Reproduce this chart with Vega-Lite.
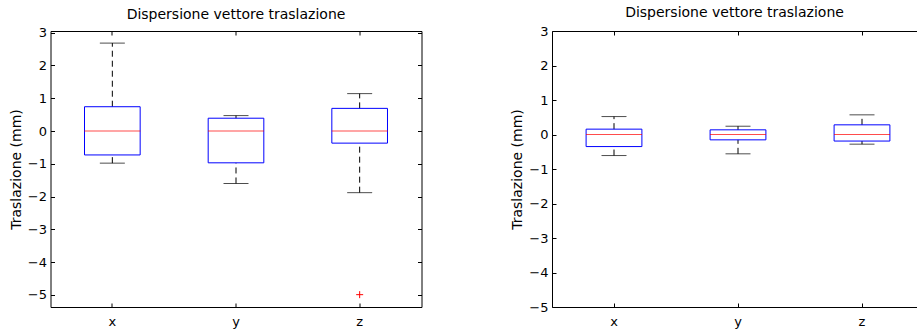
{
  "$schema": "https://vega.github.io/schema/vega-lite/v6.json",
  "padding": {"left": 8.5, "top": 5, "right": 0, "bottom": 0},
  "spacing": 87.5,
  "config": {
    "font": "DejaVu Sans",
    "view": {"stroke": "black", "strokeWidth": 1},
    "axis": {"domain": false, "grid": false, "tickColor": "black", "labelColor": "black", "titleColor": "black", "labelFont": "DejaVu Sans", "titleFont": "DejaVu Sans", "labelFontSize": 13, "titleFontSize": 14, "titleFontWeight": "normal", "tickSize": -4},
    "title": {"font": "DejaVu Sans", "fontSize": 14, "fontWeight": "normal", "color": "black", "baseline": "alphabetic", "offset": 5}
  },
  "datasets": {
    "left": [
      {"var": "x", "lo": -0.98, "q1": -0.73, "med": 0.0, "q3": 0.74, "hi": 2.68},
      {"var": "y", "lo": -1.6, "q1": -0.97, "med": 0.0, "q3": 0.39, "hi": 0.47},
      {"var": "z", "lo": -1.88, "q1": -0.37, "med": 0.0, "q3": 0.69, "hi": 1.14}
    ],
    "leftOut": [
      {"var": "z", "value": -4.99}
    ],
    "right": [
      {"var": "x", "lo": -0.61, "q1": -0.35, "med": 0.0, "q3": 0.155, "hi": 0.52},
      {"var": "y", "lo": -0.56, "q1": -0.155, "med": 0.0, "q3": 0.135, "hi": 0.24},
      {"var": "z", "lo": -0.28, "q1": -0.19, "med": 0.0, "q3": 0.28, "hi": 0.57}
    ]
  },
  "hconcat": [
    {
      "width": 371,
      "height": 276,
      "title": "Dispersione vettore traslazione",
      "data": {"name": "left"},
      "layer": [
        {
          "mark": {"type": "rule", "color": "black", "strokeDash": [6, 4], "strokeWidth": 1},
          "encoding": {
            "x": {"field": "var", "type": "nominal", "sort": ["x", "y", "z"], "scale": {"paddingInner": 0, "paddingOuter": 0}, "axis": {"orient": "bottom", "title": null, "labelAngle": 0, "labelBaseline": "alphabetic", "labelPadding": 22}},
            "y": {"field": "q3", "type": "quantitative", "scale": {"domain": [-5.366, 3.049], "nice": false, "zero": false}, "axis": {"orient": "left", "title": "Traslazione (mm)", "values": [-5, -4, -3, -2, -1, 0, 1, 2, 3], "labelPadding": 8, "titlePadding": 4}},
            "y2": {"field": "hi"}
          }
        },
        {
          "mark": {"type": "rule", "color": "black", "strokeDash": [6, 4], "strokeWidth": 1},
          "encoding": {
            "x": {"field": "var", "type": "nominal", "sort": ["x", "y", "z"], "axis": {"orient": "top", "title": null, "labels": false}},
            "y": {"field": "lo", "type": "quantitative", "axis": {"orient": "right", "title": null, "labels": false, "values": [-5, -4, -3, -2, -1, 0, 1, 2, 3]}},
            "y2": {"field": "q1"}
          }
        },
        {
          "mark": {"type": "tick", "color": "black", "size": 25, "thickness": 1},
          "encoding": {
            "x": {"field": "var", "type": "nominal", "sort": ["x", "y", "z"], "axis": null},
            "y": {"field": "hi", "type": "quantitative", "axis": null}
          }
        },
        {
          "mark": {"type": "tick", "color": "black", "size": 25, "thickness": 1},
          "encoding": {
            "x": {"field": "var", "type": "nominal", "sort": ["x", "y", "z"], "axis": null},
            "y": {"field": "lo", "type": "quantitative", "axis": null}
          }
        },
        {
          "mark": {"type": "bar", "width": {"band": 0.45}, "fill": "white", "fillOpacity": 0, "stroke": "#0000ff", "strokeWidth": 1},
          "encoding": {
            "x": {"field": "var", "type": "nominal", "sort": ["x", "y", "z"], "axis": null},
            "y": {"field": "q1", "type": "quantitative", "axis": null},
            "y2": {"field": "q3"}
          }
        },
        {
          "mark": {"type": "tick", "color": "#ff0000", "size": 56, "thickness": 1},
          "encoding": {
            "x": {"field": "var", "type": "nominal", "sort": ["x", "y", "z"], "axis": null},
            "y": {"field": "med", "type": "quantitative", "axis": null}
          }
        },
        {
          "data": {"name": "leftOut"},
          "mark": {"type": "point", "shape": "M-1,0L1,0M0,-1L0,1", "filled": false, "color": "#ff0000", "size": 49, "strokeWidth": 1, "opacity": 1},
          "encoding": {
            "x": {"field": "var", "type": "nominal", "sort": ["x", "y", "z"], "axis": null},
            "y": {"field": "value", "type": "quantitative", "axis": null}
          }
        }
      ],
      "resolve": {"axis": {"x": "independent", "y": "independent"}}
    },
    {
      "width": 365,
      "height": 276,
      "title": "Dispersione vettore traslazione",
      "data": {"name": "right"},
      "layer": [
        {
          "mark": {"type": "rule", "color": "black", "strokeDash": [6, 4], "strokeWidth": 1},
          "encoding": {
            "x": {"field": "var", "type": "nominal", "sort": ["x", "y", "z"], "scale": {"paddingInner": 0, "paddingOuter": 0, "range": [0, 372]}, "axis": {"orient": "bottom", "title": null, "labelAngle": 0, "labelBaseline": "alphabetic", "labelPadding": 22}},
            "y": {"field": "q3", "type": "quantitative", "scale": {"domain": [-5, 3], "nice": false, "zero": false}, "axis": {"orient": "left", "title": "Traslazione (mm)", "values": [-5, -4, -3, -2, -1, 0, 1, 2, 3], "labelPadding": 8, "titlePadding": 4}},
            "y2": {"field": "hi"}
          }
        },
        {
          "mark": {"type": "rule", "color": "black", "strokeDash": [6, 4], "strokeWidth": 1},
          "encoding": {
            "x": {"field": "var", "type": "nominal", "sort": ["x", "y", "z"], "axis": {"orient": "top", "title": null, "labels": false}},
            "y": {"field": "lo", "type": "quantitative", "axis": null},
            "y2": {"field": "q1"}
          }
        },
        {
          "mark": {"type": "tick", "color": "black", "size": 25, "thickness": 1},
          "encoding": {
            "x": {"field": "var", "type": "nominal", "sort": ["x", "y", "z"], "axis": null},
            "y": {"field": "hi", "type": "quantitative", "axis": null}
          }
        },
        {
          "mark": {"type": "tick", "color": "black", "size": 25, "thickness": 1},
          "encoding": {
            "x": {"field": "var", "type": "nominal", "sort": ["x", "y", "z"], "axis": null},
            "y": {"field": "lo", "type": "quantitative", "axis": null}
          }
        },
        {
          "mark": {"type": "bar", "width": {"band": 0.45}, "fill": "white", "fillOpacity": 0, "stroke": "#0000ff", "strokeWidth": 1},
          "encoding": {
            "x": {"field": "var", "type": "nominal", "sort": ["x", "y", "z"], "axis": null},
            "y": {"field": "q1", "type": "quantitative", "axis": null},
            "y2": {"field": "q3"}
          }
        },
        {
          "mark": {"type": "tick", "color": "#ff0000", "size": 56, "thickness": 1},
          "encoding": {
            "x": {"field": "var", "type": "nominal", "sort": ["x", "y", "z"], "axis": null},
            "y": {"field": "med", "type": "quantitative", "axis": null}
          }
        }
      ],
      "resolve": {"axis": {"x": "independent", "y": "independent"}}
    }
  ]
}
